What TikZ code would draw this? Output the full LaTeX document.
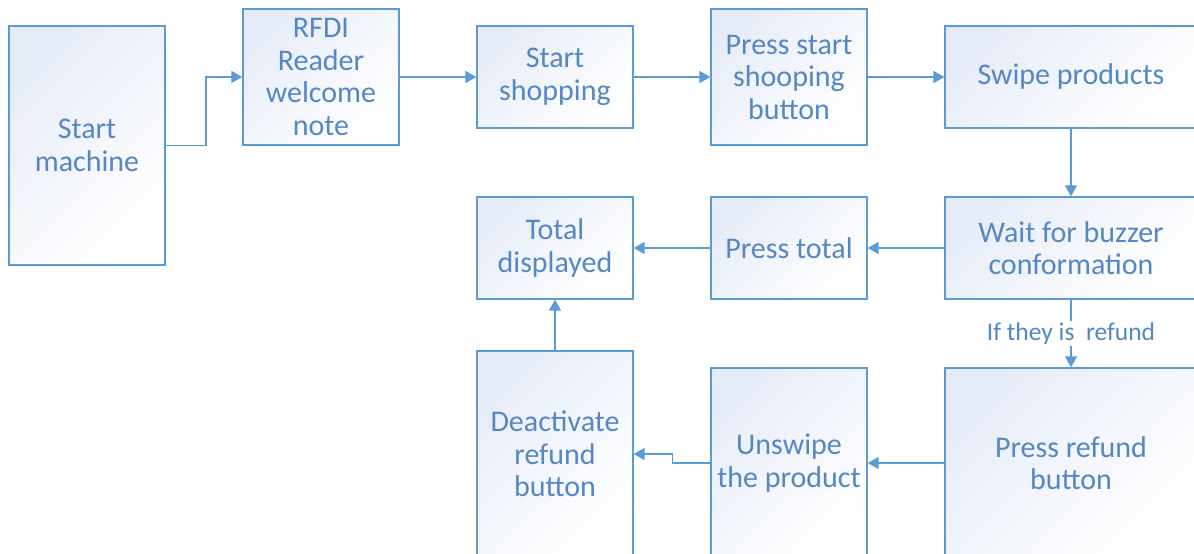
\documentclass[tikz,border=0pt]{standalone}
\usepackage{fontspec}
\setmainfont{Carlito}
\usetikzlibrary{arrows.meta}
\definecolor{edgeblue}{HTML}{5B9BD5}
\definecolor{textblue}{HTML}{5487C4}
\definecolor{fillblue}{HTML}{E6ECF7}
\tikzset{
  flowbox/.style={draw=edgeblue, line width=1.4pt, shade, shading=axis,
    top color=fillblue, bottom color=white, shading angle=45,
    text=textblue, align=center, inner sep=0pt,
    font=\fontsize{30}{32.5}\selectfont},
  flow/.style={draw=edgeblue, line width=1.6pt,
    -{Triangle[length=11pt,width=12pt]}},
  flowlabel/.style={fill=white, text=textblue, inner sep=2pt,
    font=\fontsize{25.5}{27}\selectfont}
}
\begin{document}
\begin{tikzpicture}[x=1pt,y=-1pt]
\useasboundingbox (0,0) rectangle (1194,554);
\clip (0,0) rectangle (1194,554);
% first row
\node[flowbox, minimum width=156pt, minimum height=239pt] (sm) at (87,145.5) {Start\\machine};
\node[flowbox, minimum width=156pt, minimum height=136pt] (rf) at (321,77) {RFDI\\Reader\\welcome\\note};
\node[flowbox, minimum width=156pt, minimum height=102pt] (ss) at (555,77) {Start\\shopping};
\node[flowbox, minimum width=156pt, minimum height=136pt] (ps) at (789,77) {Press start\\shooping\\button};
\node[flowbox, minimum width=252pt, minimum height=102pt] (sw) at (1071,77) {Swipe products};
% second row
\node[flowbox, minimum width=252pt, minimum height=102pt] (wb) at (1071,248) {Wait for buzzer\\conformation};
\node[flowbox, minimum width=156pt, minimum height=102pt] (pt) at (789,248) {Press total};
\node[flowbox, minimum width=156pt, minimum height=102pt] (td) at (555,248) {Total\\displayed};
% third row, running past the lower edge
\node[flowbox, minimum width=156pt, minimum height=206pt] (dr) at (555,454) {Deactivate\\refund\\button};
\node[flowbox, minimum width=156pt, minimum height=190pt] (us) at (789,463) {Unswipe\\the product};
\node[flowbox, minimum width=252pt, minimum height=190pt] (pr) at (1071,463) {Press refund\\button};
% connectors
\draw[flow] (sm.east) -- ++(40,0) |- (rf.west);
\draw[flow] (rf) -- (ss);
\draw[flow] (ss) -- (ps);
\draw[flow] (ps) -- (sw);
\draw[flow] (sw) -- (wb);
\draw[flow] (wb) -- (pt);
\draw[flow] (pt) -- (td);
\draw[flow] (wb) -- node[flowlabel, pos=0.5] {If they is\ \ refund} (pr);
\draw[flow] (pr.west) -- (us.east |- pr.west);
\draw[flow] (us.west) -- ++(-38,0) |- (dr.east);
\draw[flow] (dr) -- (td);
\end{tikzpicture}
\end{document}
